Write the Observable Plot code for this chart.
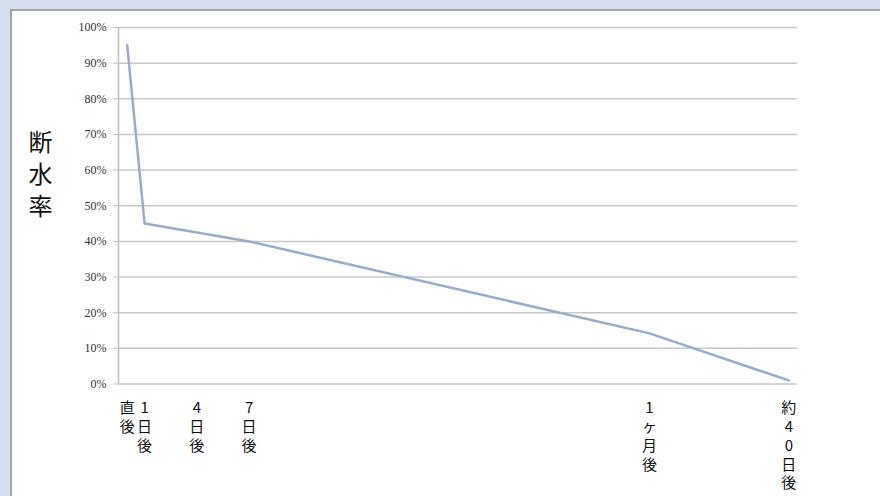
<!DOCTYPE html>
<html>
<head>
<meta charset="utf-8">
<script src="https://cdn.jsdelivr.net/npm/d3@7"></script>
<script src="https://cdn.jsdelivr.net/npm/@observablehq/plot@0.6"></script>
<style>
  html, body { margin: 0; padding: 0; }
  body { width: 880px; height: 496px; background: #d5dff0; position: relative; overflow: hidden; }
  #panel { position: absolute; left: 10px; top: 9px; width: 880px; height: 500px; background: #fff;
           border-left: 2px solid #a4a4a4; border-top: 2px solid #a4a4a4; box-sizing: border-box; }
  #chart { position: absolute; left: 0; top: 0; }
  #chart svg { background: transparent !important; }
</style>
</head>
<body>
<div id="panel"></div>
<div id="chart"></div>
<script>
// Data
const categories = ["直後", "1日後", "4日後", "7日後", "1ヶ月後", "約40日後"];
const dayIndex = [0, 1, 4, 7, 30, 38];        // position on the day-category axis
const rate = [0.95, 0.45, 0.425, 0.40, 0.142, 0.01];
const yTicks = [0, 0.1, 0.2, 0.3, 0.4, 0.5, 0.6, 0.7, 0.8, 0.9, 1.0];
const yTitle = "断水率";

const data = dayIndex.map((d, i) => ({day: d, rate: rate[i], label: categories[i]}));
const labelOf = new Map(dayIndex.map((d, i) => [d, Array.from(categories[i]).join("\n")]));

const chart = Plot.plot({
  width: 880,
  height: 496,
  marginLeft: 118,
  marginRight: 83,
  marginTop: 27,
  marginBottom: 112.5,
  style: {background: "transparent"},
  x: {domain: [-0.5, 38.5]},
  y: {domain: [0, 1]},
  marks: [
    Plot.ruleY(yTicks, {stroke: "#c8c8c8", strokeWidth: 1.5}),
    Plot.ruleX([-0.5], {stroke: "#bdbdbd", strokeWidth: 1.5}),
    Plot.axisY({
      ticks: yTicks,
      tickFormat: d => Math.round(d * 100) + "%",
      tickSize: 5,
      tickPadding: 7,
      stroke: "#bdbdbd",
      fill: "#333",
      fontSize: 12,
      fontFamily: "Liberation Serif",
      label: null
    }),
    Plot.axisX({
      ticks: dayIndex,
      tickFormat: d => labelOf.get(d),
      tickSize: 0,
      tickPadding: 16,
      fill: "#111",
      fontSize: 15,
      lineHeight: 1.25,
      fontFamily: "Noto Sans CJK JP",
      label: null
    }),
    Plot.line(data, {x: "day", y: "rate", stroke: "#9aabcd", strokeWidth: 2.5}),
    Plot.text([Array.from(yTitle).join("\n")], {
      frameAnchor: "left",
      dx: -78,
      dy: -33,
      textAnchor: "middle",
      fontSize: 24,
      lineHeight: 1.32,
      fill: "#111",
      fontFamily: "Noto Sans CJK JP"
    })
  ]
});
document.getElementById("chart").appendChild(chart);
</script>
</body>
</html>
